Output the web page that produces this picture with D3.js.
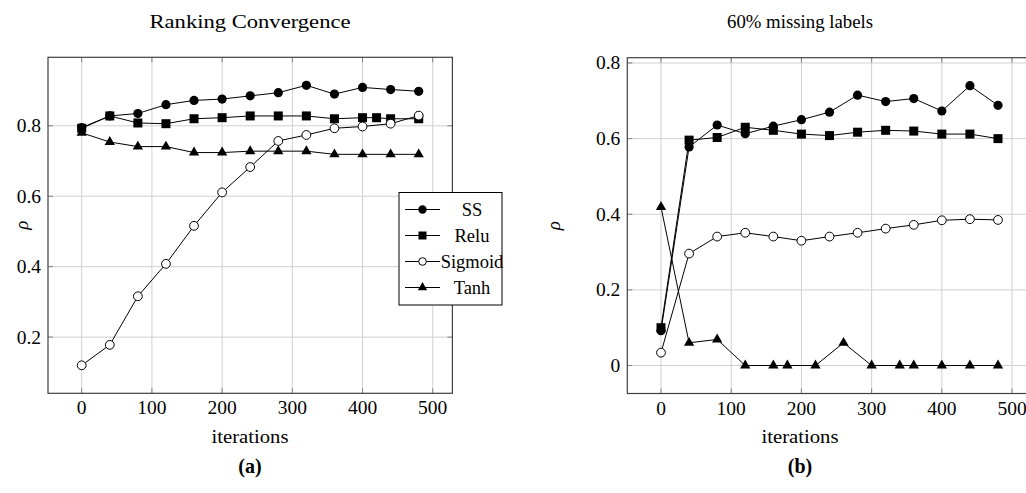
<!DOCTYPE html>
<html><head><meta charset="utf-8">
<script src="https://cdn.jsdelivr.net/npm/d3@7"></script>
<style>
body{margin:0;background:#fff;}
text{font-family:"Liberation Serif","Times New Roman",serif;fill:#000;}
</style></head>
<body>
<svg id="c" width="1026" height="493"></svg>
<script>
// ---- data ----
const xTicks = [0,100,200,300,400,500];
const yTicksA = [0.2,0.4,0.6,0.8];
const yTicksB = [0,0.2,0.4,0.6,0.8];
const seriesNames = ["SS","Relu","Sigmoid","Tanh"];
const titles = ["Ranking Convergence","60% missing labels"];
const captions = ["(a)","(b)"];

const itersA = [0,40,80,120,160,200,240,280,320,360,400,440,480];
const ssA      = [0.795,0.828,0.835,0.860,0.872,0.876,0.885,0.894,0.915,0.890,0.909,0.903,0.898];
const reluAX   = [0,40,80,120,160,200,240,280,320,360,400,420,440,480];
const reluA    = [0.793,0.828,0.808,0.806,0.820,0.823,0.828,0.828,0.828,0.820,0.823,0.823,0.820,0.820];
const sigmoidA = [0.120,0.178,0.316,0.408,0.516,0.611,0.683,0.757,0.774,0.793,0.798,0.806,0.829];
const tanhA    = [0.780,0.754,0.741,0.741,0.724,0.724,0.728,0.728,0.728,0.719,0.719,0.719,0.719];

const itersB = [0,40,80,120,160,200,240,280,320,360,400,440,480];
const ssB      = [0.092,0.578,0.636,0.613,0.633,0.650,0.670,0.715,0.698,0.706,0.673,0.740,0.688];
const reluB    = [0.100,0.596,0.603,0.630,0.622,0.612,0.608,0.617,0.622,0.620,0.612,0.612,0.600];
const sigmoidB = [0.034,0.296,0.341,0.351,0.341,0.330,0.341,0.351,0.362,0.372,0.384,0.387,0.385];
const tanhBX   = [0,40,80,120,160,180,220,260,300,340,360,400,440,480];
const tanhB    = [0.419,0.060,0.069,0,0,0,0,0.060,0,0,0,0,0,0];

// ---- drawing ----
const svg = d3.select("#c");
const markers = {
  SS: (g)=>g.append("circle").attr("r",4.6).attr("fill","#000"),
  Relu: (g)=>g.append("rect").attr("x",-4.5).attr("y",-4.5).attr("width",9).attr("height",9).attr("fill","#000"),
  Sigmoid: (g)=>g.append("circle").attr("r",4.4).attr("fill","#fff").attr("stroke","#000").attr("stroke-width",1),
  Tanh: (g)=>g.append("path").attr("d",d3.symbol(d3.symbolTriangle,46)()).attr("fill","#000")
};
const legendMarkers = {
  SS: (g)=>g.append("circle").attr("r",4.2).attr("fill","#000"),
  Relu: (g)=>g.append("rect").attr("x",-4).attr("y",-4).attr("width",8).attr("height",8).attr("fill","#000"),
  Sigmoid: (g)=>g.append("circle").attr("r",3.8).attr("fill","#fff").attr("stroke","#000").attr("stroke-width",1),
  Tanh: (g)=>g.append("path").attr("d",d3.symbol(d3.symbolTriangle,38)()).attr("fill","#000")
};

function enlarge(vals){
  const lo=d3.min(vals), hi=d3.max(vals), r=hi-lo;
  return [lo-0.1*r, hi+0.1*r];
}

function panel(cfg){
  const {x0,x1,y0,y1,series,yTicks,title,caption,legend} = cfg;
  const allX = series.flatMap(s=>s.x), allY = series.flatMap(s=>s.y);
  const x = d3.scaleLinear().domain(enlarge(allX)).range([x0,x1]);
  const y = d3.scaleLinear().domain(enlarge(allY)).range([y1,y0]);
  const g = svg.append("g");
  const clipId = "clip"+Math.round(x0);
  svg.append("clipPath").attr("id",clipId).append("rect").attr("x",x0).attr("y",y0).attr("width",x1-x0).attr("height",y1-y0);
  // grid
  const grid = g.append("g").attr("clip-path",`url(#${clipId})`);
  grid.selectAll(".gx").data(xTicks).join("line")
    .attr("x1",d=>x(d)).attr("x2",d=>x(d)).attr("y1",y0).attr("y2",y1)
    .attr("stroke","#d0d0d0").attr("stroke-width",1);
  grid.selectAll(".gy").data(yTicks).join("line")
    .attr("y1",d=>y(d)).attr("y2",d=>y(d)).attr("x1",x0).attr("x2",x1)
    .attr("stroke","#d0d0d0").attr("stroke-width",1);
  // inward ticks
  const tk = g.append("g").attr("clip-path",`url(#${clipId})`).attr("stroke","#808080").attr("stroke-width",1);
  xTicks.forEach(t=>{
    tk.append("line").attr("x1",x(t)).attr("x2",x(t)).attr("y1",y1).attr("y2",y1-5);
    tk.append("line").attr("x1",x(t)).attr("x2",x(t)).attr("y1",y0).attr("y2",y0+5);
  });
  yTicks.forEach(t=>{
    tk.append("line").attr("y1",y(t)).attr("y2",y(t)).attr("x1",x0).attr("x2",x0+5);
    tk.append("line").attr("y1",y(t)).attr("y2",y(t)).attr("x1",x1).attr("x2",x1-5);
  });
  // series
  const line = d3.line().x(d=>x(d[0])).y(d=>y(d[1]));
  series.forEach(s=>{
    const pts = s.x.map((v,i)=>[v,s.y[i]]);
    g.append("path").attr("d",line(pts)).attr("fill","none").attr("stroke","#000").attr("stroke-width",1);
    pts.forEach(p=>{
      const m = g.append("g").attr("transform",`translate(${x(p[0])},${y(p[1])})`);
      markers[s.name](m);
    });
  });
  // frame
  g.append("rect").attr("x",x0).attr("y",y0).attr("width",x1-x0).attr("height",y1-y0)
    .attr("fill","none").attr("stroke","#404040").attr("stroke-width",1.2);
  // tick labels
  g.selectAll(".xl").data(xTicks).join("text")
    .attr("x",d=>x(d)).attr("y",y1+21).attr("text-anchor","middle").attr("font-size",19.5).text(d=>String(d));
  g.selectAll(".yl").data(yTicks).join("text")
    .attr("x",x0-7).attr("y",d=>y(d)+6.5).attr("text-anchor","end").attr("font-size",19.5).text(d=>String(d));
  // labels
  const midX = cfg.labelX;
  g.append("text").attr("x",midX).attr("y",28).attr("text-anchor","middle").attr("font-size",19)
    .attr("textLength",cfg.titleLen).attr("lengthAdjust","spacingAndGlyphs").text(title);
  g.append("text").attr("x",midX).attr("y",443).attr("text-anchor","middle").attr("font-size",19)
    .attr("textLength",77).attr("lengthAdjust","spacingAndGlyphs").text("iterations");
  g.append("text").attr("x",midX).attr("y",473).attr("text-anchor","middle").attr("font-size",20).attr("font-weight","bold").text(caption);
  g.append("text").attr("transform",`translate(${cfg.rhoX},${(y0+y1)/2}) rotate(-90)`)
    .attr("text-anchor","middle").attr("font-size",19).attr("font-style","italic").text("ρ");
  if(legend){
    const lg = g.append("g");
    const lx=399, ly=192.5, lw=103, lh=112.5;
    lg.append("rect").attr("x",lx).attr("y",ly).attr("width",lw).attr("height",lh)
      .attr("fill","#fff").attr("stroke","#000").attr("stroke-width",1);
    seriesNames.forEach((n,i)=>{
      const yy = ly+17+i*26;
      lg.append("line").attr("x1",lx+6).attr("x2",lx+41).attr("y1",yy).attr("y2",yy).attr("stroke","#000");
      const m = lg.append("g").attr("transform",`translate(${lx+23.5},${yy})`);
      legendMarkers[n](m);
      lg.append("text").attr("x",lx+73).attr("y",yy+6).attr("text-anchor","middle").attr("font-size",18.5).text(n);
    });
  }
}

panel({x0:48,x1:452.4,y0:57.3,y1:393.3,yTicks:yTicksA,title:titles[0],titleLen:201,caption:captions[0],legend:true,labelX:250,rhoX:28,
  series:[{name:"SS",x:itersA,y:ssA},{name:"Relu",x:reluAX,y:reluA},{name:"Sigmoid",x:itersA,y:sigmoidA},{name:"Tanh",x:itersA,y:tanhA}]});
panel({x0:627.3,x1:1031.7,y0:57.7,y1:393.5,yTicks:yTicksB,title:titles[1],titleLen:146,caption:captions[1],legend:false,labelX:800,rhoX:560,
  series:[{name:"SS",x:itersB,y:ssB},{name:"Relu",x:itersB,y:reluB},{name:"Sigmoid",x:itersB,y:sigmoidB},{name:"Tanh",x:tanhBX,y:tanhB}]});
</script>
</body></html>
